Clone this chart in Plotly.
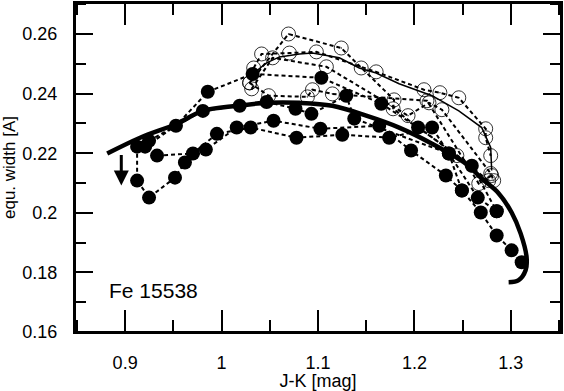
import plotly.graph_objects as go

# filled symbols, dashed sequences
f1_x = [0.9124, 0.9124, 0.9248, 0.9517, 0.9620, 0.9837, 1.0157, 1.0539, 1.1025, 1.1635, 1.1965, 1.2326, 1.2492, 1.2688, 1.2853, 1.3008, 1.3112]
f1_y = [0.2222, 0.2108, 0.2051, 0.2118, 0.2169, 0.2212, 0.2286, 0.2309, 0.2282, 0.2292, 0.2209, 0.2125, 0.2075, 0.2001, 0.1924, 0.1874, 0.1834]
f2_x = [0.9331, 0.9703, 0.9951, 1.0302, 1.0777, 1.1252, 1.1738, 1.2183, 1.2357, 1.2657, 1.2853]
f2_y = [0.2192, 0.2199, 0.2265, 0.2286, 0.2252, 0.2262, 0.2252, 0.2286, 0.2199, 0.2051, 0.2005]
f3_x = [0.9207, 0.9527, 0.9857, 1.0322, 1.1035, 1.1656, 1.2038, 1.2595, 1.2853]
f3_y = [0.2222, 0.2292, 0.2406, 0.2466, 0.2453, 0.2366, 0.2286, 0.2158, 0.2005]
f4_x = [0.9248, 0.9806, 1.0188, 1.0467, 1.0767, 1.0932, 1.1293, 1.1376, 1.2357, 1.2492]
f4_y = [0.2242, 0.2342, 0.2359, 0.2372, 0.2349, 0.2332, 0.2393, 0.2316, 0.2199, 0.2075]

# open symbols, dashed sequences
o1_x = [1.0291, 1.0694, 1.1241, 1.1448, 1.1789, 1.1779, 1.2440, 1.2770]
o1_y = [0.2436, 0.2600, 0.2553, 0.2486, 0.2379, 0.2349, 0.2192, 0.2108]
o2_x = [1.0333, 1.0415, 1.0704, 1.0983, 1.1603, 1.2099, 1.2264, 1.2460, 1.2739, 1.2739, 1.2791]
o2_y = [0.2486, 0.2533, 0.2536, 0.2540, 0.2473, 0.2413, 0.2403, 0.2386, 0.2282, 0.2252, 0.2192]
o3_x = [1.0312, 1.0529, 1.1087, 1.1934, 1.2151, 1.2285, 1.2791, 1.2822]
o3_y = [0.2416, 0.2520, 0.2490, 0.2326, 0.2369, 0.2346, 0.2132, 0.2108]
o4_x = [1.0291, 1.0488, 1.0890, 1.0942, 1.1149, 1.2130, 1.2667, 1.2801]
o4_y = [0.2436, 0.2393, 0.2389, 0.2413, 0.2399, 0.2376, 0.2098, 0.2125]

# model curves
thick_x = [0.8814, 0.9155, 0.9537, 0.9806, 1.0157, 1.0467, 1.0808, 1.1149, 1.1500, 1.1841, 1.2183, 1.2533, 1.2698, 1.2874, 1.3008, 1.3101, 1.3163, 1.3153, 1.3081, 1.2977]
thick_y = [0.2199, 0.2252, 0.2299, 0.2342, 0.2359, 0.2369, 0.2369, 0.2359, 0.2326, 0.2286, 0.2232, 0.2165, 0.2115, 0.2065, 0.2001, 0.1931, 0.1851, 0.1807, 0.1774, 0.1767]
thin_x = [1.0322, 1.0467, 1.0601, 1.0808, 1.0942, 1.1221, 1.1428, 1.1603, 1.1841, 1.2183, 1.2460, 1.2698, 1.2791, 1.2801]
thin_y = [0.2466, 0.2503, 0.2523, 0.2533, 0.2536, 0.2520, 0.2486, 0.2469, 0.2433, 0.2393, 0.2342, 0.2286, 0.2219, 0.2142]

# upper limit arrow
arrow_x = 0.896
arrow_from = 0.2199
arrow_to = 0.2092

FONT = "Liberation Sans"
fig = go.Figure()

fig.add_trace(go.Scatter(x=thin_x, y=thin_y, mode="lines",
                         line=dict(color="black", width=1.5)))
fig.add_trace(go.Scatter(x=thick_x, y=thick_y, mode="lines",
                         line=dict(color="black", width=4.5, shape="spline")))

for xs, ys in [(o1_x, o1_y), (o2_x, o2_y), (o3_x, o3_y), (o4_x, o4_y)]:
    fig.add_trace(go.Scatter(
        x=xs, y=ys, mode="lines+markers",
        line=dict(color="black", width=2, dash="4px,3px"),
        marker=dict(symbol="circle-open-dot", size=14, color="black",
                    line=dict(width=0.8, color="black"))))

for xs, ys in [(f1_x, f1_y), (f2_x, f2_y), (f3_x, f3_y), (f4_x, f4_y)]:
    fig.add_trace(go.Scatter(
        x=xs, y=ys, mode="lines+markers",
        line=dict(color="black", width=2, dash="4px,3px"),
        marker=dict(symbol="circle", size=14, color="black")))

fig.add_annotation(x=arrow_x, y=arrow_to, ax=arrow_x, ay=arrow_from,
                   xref="x", yref="y", axref="x", ayref="y",
                   showarrow=True, arrowhead=2, arrowsize=1, arrowwidth=3,
                   arrowcolor="black", text="")
fig.add_annotation(x=0.8814, y=0.174, xref="x", yref="y", text="Fe 15538",
                   showarrow=False, xanchor="left",
                   font=dict(family=FONT, size=21, color="black"))

# frame round the plot area
fig.add_shape(type="rect", xref="paper", yref="paper", x0=0, x1=1, y0=0, y1=1,
              line=dict(color="black", width=2))

axis_common = dict(
    showline=True, linecolor="black", linewidth=2, mirror="allticks",
    ticks="inside", tickcolor="black", tickwidth=2,
    showgrid=False, zeroline=False, automargin=False,
    tickfont=dict(family=FONT, size=18, color="black"),
)
fig.update_xaxes(**axis_common, range=[0.848, 1.352], dtick=0.1, tick0=0.9,
                 ticklen=22, ticklabelstandoff=13,
                 minor=dict(ticks="inside", dtick=0.05, ticklen=12, tickwidth=2, tickcolor="black"),
                 title=dict(text="J-K [mag]", font=dict(family=FONT, size=18, color="black"), standoff=0))
fig.update_yaxes(**axis_common, range=[0.16, 0.2704], dtick=0.02, tick0=0.16,
                 ticklen=18, ticklabelstandoff=12,
                 minor=dict(ticks="inside", dtick=0.01, ticklen=11, tickwidth=2, tickcolor="black"),
                 title=dict(text="equ. width [A]", font=dict(family=FONT, size=17, color="black"), standoff=2))

fig.update_layout(
    width=564, height=391,
    margin=dict(l=75, r=3, t=3, b=59),
    plot_bgcolor="white", paper_bgcolor="white",
    showlegend=False, hovermode=False,
)
# drop the default page margin so the figure sits at the window's corner
fig.write_html("out.html", config={"displayModeBar": False},
               post_script="document.body.style.margin='0';")
